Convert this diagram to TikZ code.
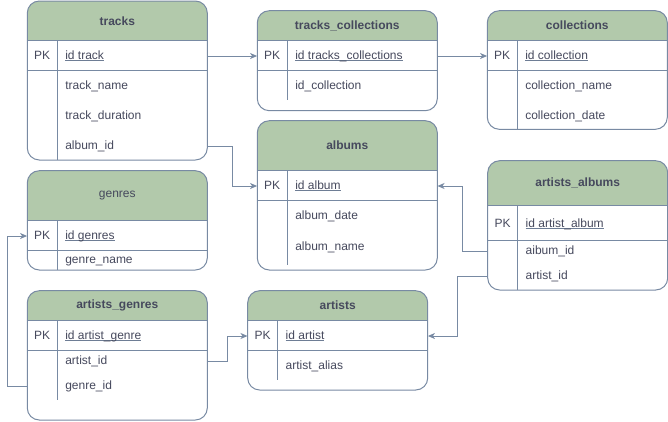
\documentclass[tikz,border=0pt]{standalone}
\usepackage{fontspec}
\setmainfont{Liberation Sans}
\usetikzlibrary{arrows.meta}
\definecolor{hdrfill}{HTML}{B2C9AB}
\definecolor{linec}{HTML}{788AA3}
\definecolor{txtc}{HTML}{46495D}
\newcommand\ulx[1]{\setbox0\hbox{#1}\rlap{\color{linec!80!txtc}\rule[-2pt]{\wd0}{0.9pt}}\box0}
% name, x1, y1, x2, y2, header bottom, pk bottom, divider bottom, title
\newcommand\erdbox[9]{%
  \begin{scope}
    \clip[rounded corners=12pt] (#2,#3) rectangle (#4,#5);
    \fill[hdrfill] (#2,#3) rectangle (#4,#6);
  \end{scope}
  \draw[tbl,rounded corners=12pt] (#2,#3) rectangle (#4,#5);
  \draw[tbl] (#2,#6) -- (#4,#6) (#2,#7) -- (#4,#7) (#2+30,#6) -- (#2+30,#8);
  \node[ttl] (#1) at ({(#2+#4)/2},{(#3+#6)/2}) {#9};
}
\newcommand\erdrow[4]{%
  \node[rowbox] (#1) at (#2+90,#3) {};
  \node[fld] at ([xshift=38pt]#1.west) {#4};
}
\newcommand\erdpk[4]{%
  \node[rowbox] (#1) at (#2+90,#3) {};
  \node[pkc] at ([xshift=15pt]#1.west) {PK};
  \node[fld] at ([xshift=38pt]#1.west) {\ulx{#4}};
}
\begin{document}
\begin{tikzpicture}[x=1pt,y=-1pt,
  tbl/.style={draw=linec,line width=1pt},
  ttl/.style={text=txtc,font=\bfseries\fontsize{12}{14}\selectfont,inner sep=0pt},
  rowbox/.style={minimum width=180pt,minimum height=1pt,inner sep=0pt},
  fld/.style={anchor=west,inner sep=0pt,text=txtc,font=\fontsize{12}{14}\selectfont,text height=8.6pt,text depth=2.5pt},
  pkc/.style={inner sep=0pt,text=txtc,font=\fontsize{12}{14}\selectfont,text height=8.6pt,text depth=2.5pt},
  conn/.style={draw=linec,line width=1pt,-{Stealth[length=7pt,width=6pt,inset=2pt]}}]
\useasboundingbox[fill=white] (0,0) rectangle (668,421);

% tables
\erdbox{tracks}{27.3}{1}{207.3}{160}{40.7}{70.3}{160}{tracks}
\erdpk{tracks-pk}{27.3}{56}{id track}
\erdrow{tracks-name}{27.3}{86}{track\_name}
\erdrow{tracks-dur}{27.3}{116}{track\_duration}
\erdrow{tracks-album}{27.3}{146}{album\_id}

\erdbox{tc}{257.3}{10.7}{437.3}{110.7}{40.7}{70.3}{100}{tracks\_collections}
\erdpk{tc-pk}{257.3}{56}{id tracks\_collections}
\erdrow{tc-col}{257.3}{86}{id\_collection}

\erdbox{col}{487.3}{10.7}{667.3}{129.3}{40.7}{70}{129.3}{collections}
\erdpk{col-pk}{487.3}{56}{id collection}
\erdrow{col-name}{487.3}{86}{collection\_name}
\erdrow{col-date}{487.3}{116}{collection\_date}

\erdbox{alb}{257.3}{120.7}{437.3}{270}{170.7}{200}{265}{albums}
\erdpk{alb-pk}{257.3}{186}{id album}
\erdrow{alb-date}{257.3}{216}{album\_date}
\erdrow{alb-name}{257.3}{247}{album\_name}

\erdbox{ge}{27.3}{170.7}{207.3}{270}{220.7}{250}{270}{\mdseries genres}
\erdpk{ge-pk}{27.3}{236}{id genres}
\erdrow{ge-name}{27.3}{260.5}{genre\_name}

\erdbox{ag}{27.3}{290.7}{207.3}{420}{320.7}{350.3}{400}{artists\_genres}
\erdpk{ag-pk}{27.3}{336}{id artist\_genre}
\erdrow{ag-artist}{27.3}{361}{artist\_id}
\erdrow{ag-genre}{27.3}{386}{genre\_id}

\erdbox{ar}{247.7}{290.7}{427.7}{390}{320.7}{350.3}{380}{artists}
\erdpk{ar-pk}{247.7}{336}{id artist}
\erdrow{ar-alias}{247.7}{366}{artist\_alias}

\erdbox{aa}{487.7}{160.7}{667.7}{290}{205.7}{240.7}{290}{artists\_albums}
\erdpk{aa-pk}{487.7}{224}{id artist\_album}
\erdrow{aa-album}{487.7}{251}{aibum\_id}
\erdrow{aa-artist}{487.7}{276}{artist\_id}

% connectors
\draw[conn] (tracks-pk.east) -- (tc-pk.west);
\draw[conn] (tc-pk.east) -- (col-pk.west);
\draw[conn] (tracks-album.east) -- ++(25,0) |- (alb-pk.west);
\draw[conn] (aa-album.west) -- ++(-25.4,0) |- (alb-pk.east);
\draw[conn] (aa-artist.west) -- ++(-30.4,0) |- (ar-pk.east);
\draw[conn] (ag-artist.east) -- ++(20,0) |- (ar-pk.west);
\draw[conn] (ag-genre.west) -- ++(-20,0) |- (ge-pk.west);
\end{tikzpicture}
\end{document}
